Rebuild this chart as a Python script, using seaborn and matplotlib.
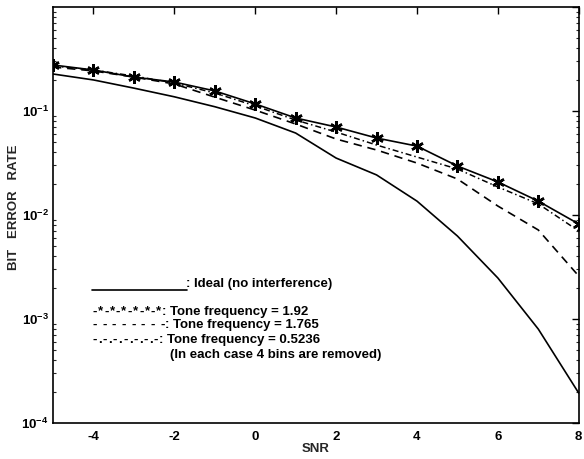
import numpy as np
import pandas as pd
import matplotlib
matplotlib.use("Agg")
import matplotlib.pyplot as plt
import seaborn as sns
from matplotlib.ticker import LogLocator, FixedLocator, FixedFormatter

sns.set_theme(style="white")
plt.rcParams["font.family"] = ["Liberation Sans", "DejaVu Sans"]
plt.rcParams["font.weight"] = "bold"
plt.rcParams["mathtext.fontset"] = "custom"
plt.rcParams["mathtext.rm"] = "Liberation Sans:bold"
plt.rcParams["mathtext.it"] = "Liberation Sans:bold"
plt.rcParams["mathtext.bf"] = "Liberation Sans:bold"

# Signal-to-noise ratio values
snr = [-5, -4, -3, -2, -1, 0, 1, 2, 3, 4, 5, 6, 7, 8]

# Bit error rate for each case
ber_ideal = [0.227, 0.199, 0.166, 0.137, 0.110, 0.0857, 0.0614, 0.0353,
             0.0243, 0.0136, 0.00628, 0.00248, 0.00080, 0.000194]
ber_f192 = [0.277, 0.248, 0.212, 0.190, 0.156, 0.117, 0.0857, 0.0702,
            0.0550, 0.0460, 0.0296, 0.0208, 0.0136, 0.0082]
ber_f1765 = [0.265, 0.243, 0.212, 0.182, 0.136, 0.102, 0.075, 0.0538,
             0.0422, 0.0316, 0.0222, 0.0122, 0.00718, 0.00259]
ber_f05236 = [0.271, 0.248, 0.217, 0.186, 0.149, 0.112, 0.0819, 0.0628,
              0.0471, 0.0361, 0.0277, 0.0186, 0.0128, 0.00702]

x_ticks = [-4, -2, 0, 2, 4, 6, 8]
y_ticks = [1e-4, 1e-3, 1e-2, 1e-1]
y_tick_labels = [r"$10^{-4}$", r"$10^{-3}$", r"$10^{-2}$", r"$10^{-1}$"]

fig = plt.figure(figsize=(5.84, 4.59), dpi=100)
ax = fig.add_axes([0.0908, 0.0784, 0.9002, 0.9063])

lw = 1.2
sns.lineplot(x=snr, y=ber_ideal, ax=ax, color="black", linewidth=lw)
sns.lineplot(x=snr, y=ber_f192, ax=ax, color="black", linewidth=lw,
             marker=(6, 2, 0), markersize=9, markeredgewidth=1.8,
             markeredgecolor="black")
sns.lineplot(x=snr, y=ber_f1765, ax=ax, color="black", linewidth=lw)
ax.lines[-1].set_dashes([5, 3.5])
sns.lineplot(x=snr, y=ber_f05236, ax=ax, color="black", linewidth=lw * 0.9)
ax.lines[-1].set_dashes([4, 2, 1, 2])

ax.set_yscale("log")
ax.set_xlim(-5, 8)
ax.set_ylim(1e-4, 1)

ax.xaxis.set_major_locator(FixedLocator(x_ticks))
ax.set_xticklabels([str(t) for t in x_ticks])
ax.yaxis.set_major_locator(FixedLocator(y_ticks + [1.0]))
ax.yaxis.set_major_formatter(FixedFormatter(y_tick_labels + [""]))
ax.yaxis.set_minor_locator(LogLocator(base=10, subs=np.arange(2, 10)))
ax.yaxis.set_minor_formatter(plt.NullFormatter())

ax.tick_params(axis="both", which="major", direction="in", length=5,
               width=1, top=True, right=True, labelsize=9.5, colors="black")
ax.tick_params(axis="x", which="major", pad=6)
ax.tick_params(axis="y", which="major", pad=3)
ax.tick_params(axis="y", which="minor", direction="in", length=2.5,
               width=0.8, left=True, right=True)
for lab in ax.get_xticklabels() + ax.get_yticklabels():
    lab.set_fontweight("bold")

for sp in ax.spines.values():
    sp.set_color("black")
    sp.set_linewidth(1.2)

ax.set_xlabel("SNR", fontsize=9.5, fontweight="bold", labelpad=0)
ax.set_ylabel("BIT   ERROR   RATE", fontsize=9.5, fontweight="bold",
              labelpad=0)
ax.yaxis.set_label_coords(-0.062, 0.519)

# Key written into the plot area
tk = dict(transform=ax.transData, fontsize=9.5, fontweight="bold",
          va="center", ha="left", color="black")


def pattern(chars, x0, x1, y):
    """Spread the characters of a line-style sample evenly from x0 to x1."""
    xs = np.linspace(x0, x1, len(chars))
    for c, xc in zip(chars, xs):
        if c != " ":
            ax.text(xc, y, c, transform=ax.transData, fontsize=9.5,
                    fontweight="bold", va="center", ha="center",
                    color="black")


ax.plot([-4.03, -1.69], [1.9e-3, 1.9e-3], color="black", linewidth=lw)
ax.text(-1.71, 2.15e-3, ": Ideal (no interference)", **tk)

pattern("-*-*-*-*-*-*", -3.97, -2.38, 1.18e-3)
ax.text(-2.30, 1.18e-3, ": Tone frequency = 1.92", **tk)

pattern("--------", -3.97, -2.30, 0.88e-3)
ax.text(-2.23, 0.88e-3, ": Tone frequency = 1.765", **tk)

pattern("-.-.-.-.-.-.-", -3.97, -2.45, 0.635e-3)
ax.text(-2.38, 0.635e-3, ": Tone frequency = 0.5236", **tk)

ax.text(-2.11, 0.455e-3, "(In each case 4 bins are removed)", **tk)

fig.savefig("out.png", dpi=100)
